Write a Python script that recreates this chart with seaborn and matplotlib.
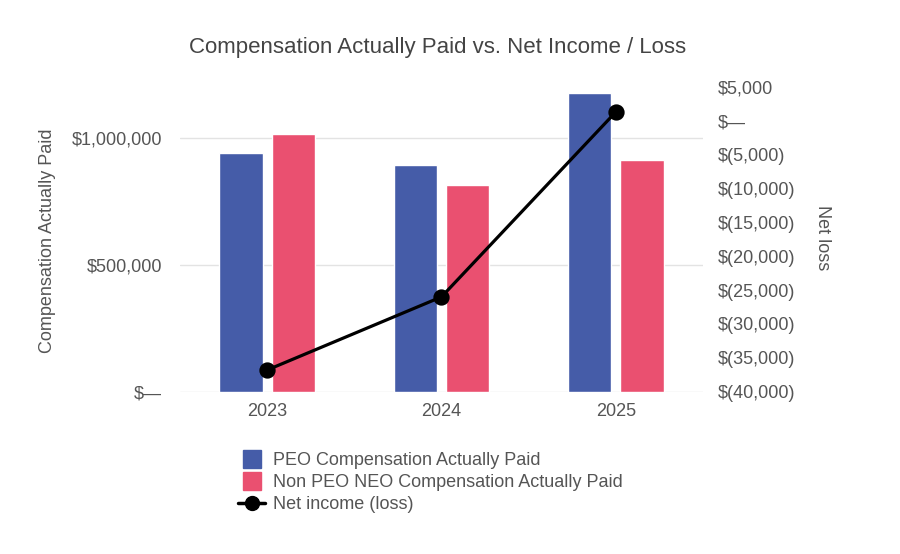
import matplotlib
import pandas as pd
import seaborn as sns
from matplotlib import pyplot as plt
from matplotlib.lines import Line2D
from matplotlib.ticker import FuncFormatter

matplotlib.use('Agg')

years = ['2023', '2024', '2025']
peo_cap = [941000, 893000, 1178000]
non_peo_cap = [1013000, 813000, 913000]
net_income = [-36800, -26000, 1300]

series_names = ['PEO Compensation Actually Paid', 'Non PEO NEO Compensation Actually Paid']
line_name = 'Net income (loss)'

BLUE = '#455CA8'
PINK = '#EA5070'
TEXT = '#555555'


def money_fmt(v, pos=None):
    if abs(v) < 0.5:
        return '$\u2014'
    if v < 0:
        return f'$({-v:,.0f})'
    return f'${v:,.0f}'


sns.set_theme(style='white')
plt.rcParams['font.family'] = ['Liberation Sans', 'DejaVu Sans']

fig = plt.figure(figsize=(9, 5.54), dpi=100)
ax = fig.add_axes([0.2, 0.293, 0.581, 0.55])

df = pd.DataFrame({
    'year': years * 2,
    'series': [series_names[0]] * 3 + [series_names[1]] * 3,
    'value': peo_cap + non_peo_cap,
})
sns.barplot(data=df, x='year', y='value', hue='series', palette=[BLUE, PINK],
            width=0.6, gap=0.17, saturation=1, legend=False, ax=ax)
ax.set_xlim(-0.5, 2.5)
ax.set_ylim(0, 1.2e6)
ax.set_yticks([0, 500000, 1000000])
ax.yaxis.set_major_formatter(FuncFormatter(money_fmt))
ax.grid(axis='y', color='#e3e3e3', lw=1)
ax.set_axisbelow(True)
ax.set_xlabel('')
ax.set_ylabel('')
ax.tick_params(length=0, labelsize=13, labelcolor=TEXT)
ax.tick_params(axis='x', pad=8)
ax.tick_params(axis='y', pad=13)

ax2 = ax.twinx()
sns.pointplot(x=years, y=net_income, color='black', markers='o', markersize=10,
              linewidth=2.3, errorbar=None, ax=ax2)
ax2.set_xlim(-0.5, 2.5)
ax2.set_ylim(-40000, 5000)
ax2.set_yticks(range(-40000, 5001, 5000))
ax2.yaxis.set_major_formatter(FuncFormatter(money_fmt))
ax2.tick_params(length=0, labelsize=13, labelcolor=TEXT, pad=11)
ax2.set_ylabel('')

for a in (ax, ax2):
    for s in a.spines.values():
        s.set_visible(False)

fig.text(0.486, 1 - 47 / 554, 'Compensation Actually Paid vs. Net Income / Loss',
         ha='center', va='center', fontsize=16, color='#444444')
fig.text(48 / 900, 1 - 241 / 554, 'Compensation Actually Paid', rotation=90,
         ha='center', va='center', fontsize=13, color=TEXT)
fig.text(823 / 900, 1 - 238 / 554, 'Net loss', rotation=270,
         ha='center', va='center', fontsize=13, color=TEXT)

handles = [
    Line2D([], [], ls='none', marker='s', markersize=13, color=BLUE),
    Line2D([], [], ls='none', marker='s', markersize=13, color=PINK),
    Line2D([], [], color='black', lw=2.5, marker='o', markersize=10),
]
fig.legend(handles, series_names + [line_name], loc='upper left',
           bbox_to_anchor=(238 / 900, 1 - 452 / 554), frameon=False, fontsize=13,
           labelspacing=0.28, handlelength=1.5, handletextpad=0.45,
           borderaxespad=0, borderpad=0, labelcolor=TEXT)

fig.savefig('out.png', dpi=100)
